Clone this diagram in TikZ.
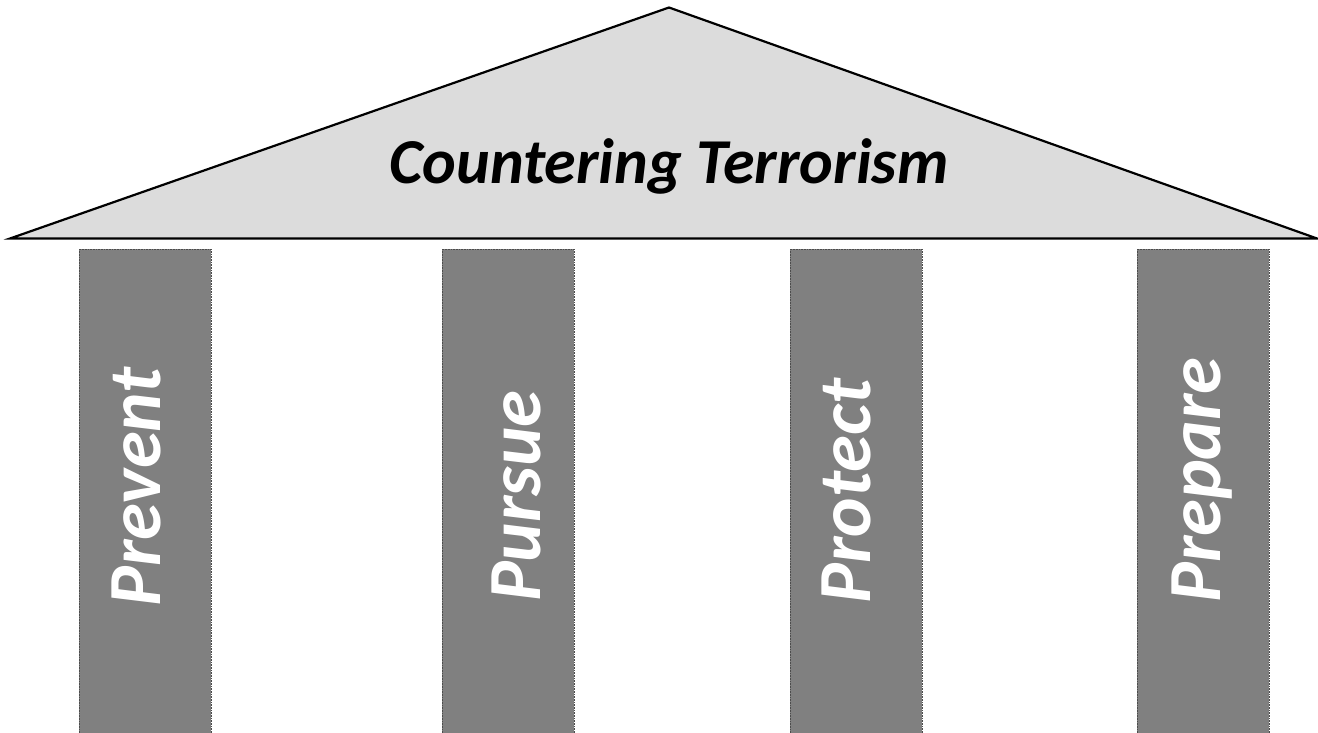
\documentclass[tikz,border=0pt]{standalone}
\usepackage{fontspec}
\setmainfont{Carlito}
\begin{document}
\begin{tikzpicture}[x=1pt,y=-1pt,
  roof/.style={draw=black,line width=2.2pt,fill=roofgray,line join=miter},
  pillar/.style={draw=black!70,densely dotted,line width=0.6pt,fill=pillargray},
  title/.style={font=\fontsize{64}{64}\selectfont\bfseries\itshape,inner sep=0pt},
  pname/.style={font=\fontsize{75}{75}\selectfont\bfseries\itshape,text=white,rotate=90,anchor=base,inner sep=0pt}]
\definecolor{roofgray}{HTML}{DCDCDC}
\definecolor{pillargray}{HTML}{808080}
\useasboundingbox (0,0) rectangle (1318,733);
\clip (0,0) rectangle (1318,733);
\draw[roof] (10,238.5) -- (669,7.5) -- (1317,238.5) -- cycle;
\node[title,anchor=base] (t) at (669,184) {Countering Terrorism};
\draw[pillar] (79,249) rectangle (211,745);
\draw[pillar] (442,249) rectangle (574,745);
\draw[pillar] (790,249) rectangle (922,745);
\draw[pillar] (1137,249) rectangle (1269,745);
\node[pname] (p1) at (160,487) {Prevent};
\node[pname] (p2) at (540,496) {Pursue};
\node[pname] (p3) at (870,491) {Protect};
\node[pname] (p4) at (1220,480) {Prepare};
\end{tikzpicture}
\end{document}
